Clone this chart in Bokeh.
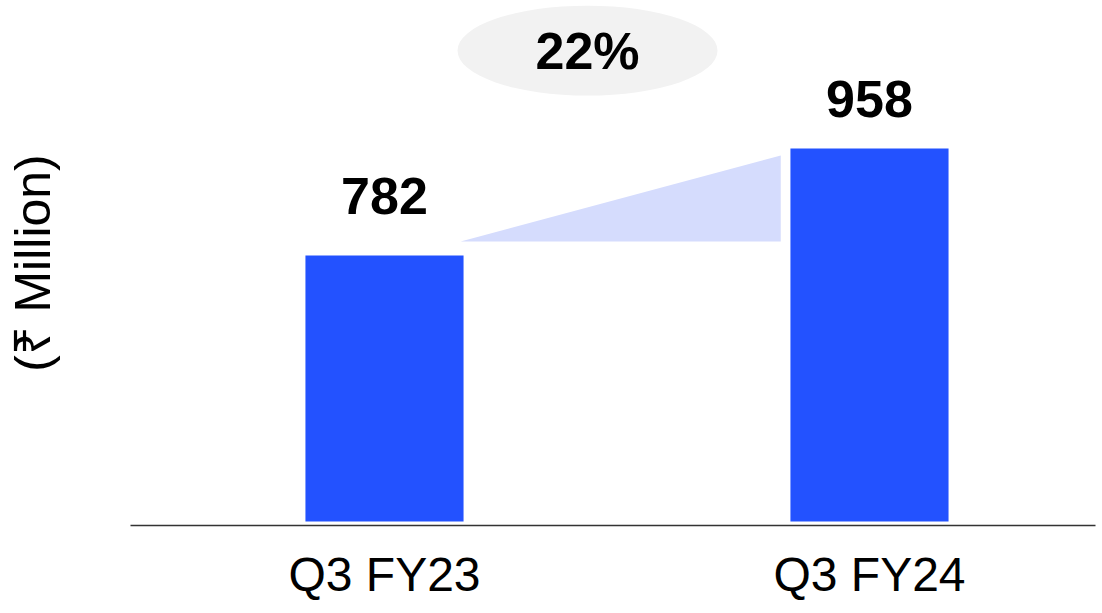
from bokeh.plotting import figure
from bokeh.models import Range1d, FixedTicker, ColumnDataSource
from bokeh.core.properties import value
from bokeh.embed import file_html
from bokeh.resources import INLINE

# ---- data ----
categories = ["Q3 FY23", "Q3 FY24"]
revenue = [782, 958]
growth_label = "22%"
y_label = "(₹ Million)"

# ---- style ----
BAR_COLOR = "#2352ff"
WEDGE_COLOR = "#d5dcfd"
BADGE_COLOR = "#f2f2f2"
BAR_WIDTH = 0.326
BAR_BASE = 344.6
FONT = "Liberation Sans, Arial, Noto Sans, DejaVu Sans"

xs = list(range(len(categories)))

p = figure(width=1102, height=613, output_backend="svg", toolbar_location=None,
           x_range=Range1d(-0.5237, 1.466), y_range=Range1d(338, 1201.4),
           min_border_left=130, min_border_right=7, min_border_top=0, min_border_bottom=88)
p.outline_line_color = None
p.xgrid.visible = False
p.ygrid.visible = False
p.background_fill_color = "white"
p.border_fill_color = "white"

# y axis: no ticks or line, only its label (bounds centre the label)
p.yaxis.ticker = FixedTicker(ticks=[], minor_ticks=[])
p.yaxis.bounds = (400, 1078.6)
p.yaxis.axis_line_color = None
p.yaxis.major_tick_line_color = None
p.yaxis.minor_tick_line_color = None
p.yaxis.major_tick_out = 0
p.yaxis.major_tick_in = 0
p.yaxis.minor_tick_out = 0
p.yaxis.minor_tick_in = 0
p.yaxis.major_label_standoff = 0
p.yaxis.axis_label = y_label
p.yaxis.axis_label_standoff = 70
p.yaxis.axis_label_text_font = FONT
p.yaxis.axis_label_text_font_size = "50px"
p.yaxis.axis_label_text_font_style = "normal"
p.yaxis.axis_label_text_color = "black"

# growth wedge between bars
x0 = xs[0] + BAR_WIDTH / 2 - 0.006
x1 = xs[1] - BAR_WIDTH / 2 - 0.02
p.patch([x0, x1, x1], [revenue[0] + 23, revenue[1] - 11.5, revenue[0] + 23],
        fill_color=WEDGE_COLOR, line_color=None)

src = ColumnDataSource(dict(x=xs, top=revenue))
p.vbar(x="x", top="top", bottom=BAR_BASE, width=BAR_WIDTH, source=src,
       fill_color=BAR_COLOR, line_color=None)

# value labels
offsets = [60, 50]
for xv, v, off in zip(xs, revenue, offsets):
    p.text(x=[xv], y=[v], text=[str(v)], text_align="center", text_baseline="alphabetic",
           y_offset=-off, text_font=value(FONT), text_font_size="52px",
           text_font_style="bold", text_color="black")

# growth badge
BADGE_X = 0.4186
BADGE_Y = 1119
p.ellipse(x=[BADGE_X], y=[BADGE_Y], width=260, height=90, width_units="screen",
          height_units="screen", fill_color=BADGE_COLOR, line_color=None)
p.text(x=[BADGE_X], y=[BADGE_Y], text=[growth_label], text_align="center",
       text_baseline="middle", text_font=value(FONT), text_font_size="52px",
       text_font_style="bold", text_color="black")

# x axis
p.xaxis.ticker = FixedTicker(ticks=xs)
p.xaxis.major_label_overrides = {i: c for i, c in zip(xs, categories)}
p.xaxis.major_tick_line_color = None
p.xaxis.minor_tick_line_color = None
p.xaxis.axis_line_color = "#333333"
p.xaxis.axis_line_width = 1.5
p.xaxis.major_label_text_font = FONT
p.xaxis.major_label_text_font_size = "48px"
p.xaxis.major_label_text_color = "black"
p.xaxis.major_label_standoff = 16

open("out.html", "w").write(file_html(p, INLINE))
